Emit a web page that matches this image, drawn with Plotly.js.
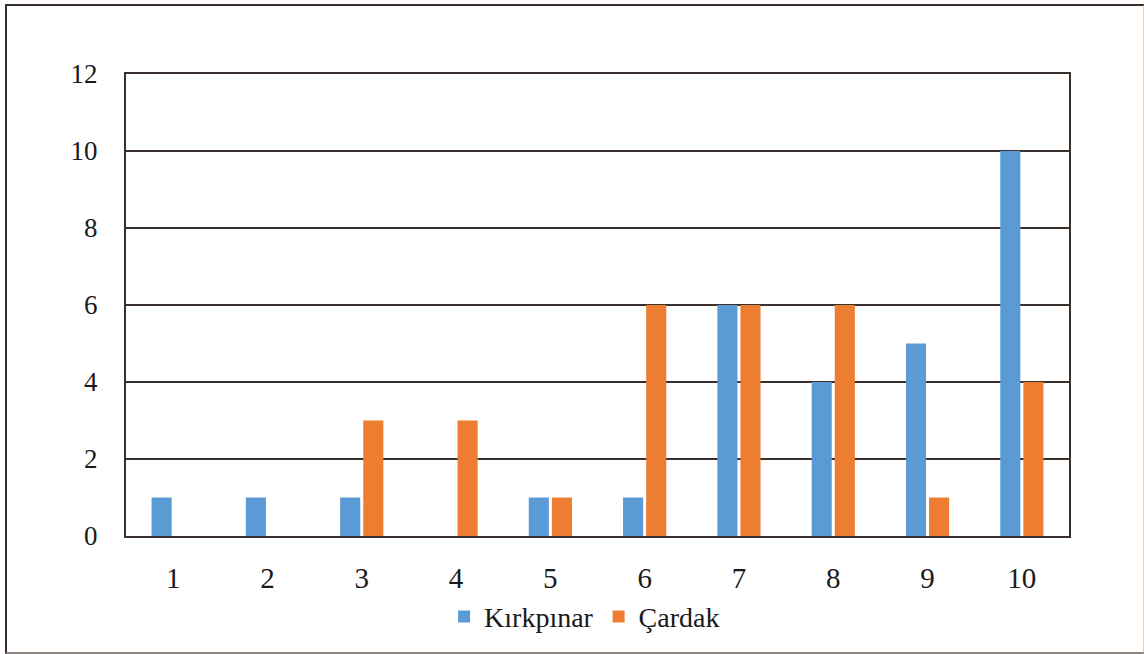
<!DOCTYPE html>
<html>
<head>
<meta charset="utf-8">
<script src="https://cdn.plot.ly/plotly-3.0.1.min.js"></script>
<style>
html,body{margin:0;padding:0;background:#fff;}
#wrap{position:absolute;left:0;top:0;width:1144px;height:654px;}
#frame{position:absolute;left:5px;top:4px;width:1136px;height:646px;border:2px solid #3b302c;border-bottom-color:#8a8580;border-right-color:#d8d2cf;pointer-events:none;}
#chart{position:absolute;left:0;top:0;width:1144px;height:654px;}
</style>
</head>
<body>
<div id="wrap"><div id="chart"></div><div id="frame"></div></div>
<script>
const categories = ["1","2","3","4","5","6","7","8","9","10"];
const kirkpinar = [1,1,1,0,1,1,6,4,5,10];
const cardak = [0,0,3,3,1,6,6,6,1,4];
const seriesNames = ["Kırkpınar","Çardak"];
const yTicks = [0,2,4,6,8,10,12];

const gridColor = "#3a302c";
const font = "Liberation Serif";
const textColor = "#1a1a1a";

const traces = [
  {type:"bar", x:categories, y:kirkpinar, name:seriesNames[0], marker:{color:"#5B9BD5"}},
  {type:"bar", x:categories, y:cardak, name:seriesNames[1], marker:{color:"#ED7D31"}}
];

const layout = {
  width:1144, height:654,
  margin:{l:126, r:75, t:74, b:118, autoexpand:false},
  paper_bgcolor:"#ffffff", plot_bgcolor:"#ffffff",
  barmode:"group", bargap:0.51, bargroupgap:0.13,
  font:{family:font, color:textColor},
  xaxis:{
    type:"category", showgrid:false, showline:true, mirror:true,
    linecolor:gridColor, linewidth:2, automargin:false,
    tickfont:{size:29, family:font, color:textColor},
    ticks:"outside", ticklen:15, tickcolor:"rgba(0,0,0,0)"
  },
  yaxis:{
    range:[0,12], tickvals:yTicks, showgrid:true, gridcolor:gridColor, gridwidth:2,
    showline:true, mirror:true, linecolor:gridColor, linewidth:2, zeroline:false, automargin:false,
    tickfont:{size:27, family:font, color:textColor},
    ticks:"outside", ticklen:21, tickcolor:"rgba(0,0,0,0)"
  },
  showlegend:true,
  legend:{orientation:"h", xref:"container", yref:"container", x:0.511, xanchor:"center", y:0.057, yanchor:"middle",
    font:{size:28, family:font, color:textColor}, itemwidth:30, traceorder:"normal"}
};

Plotly.newPlot("chart", traces, layout, {displayModeBar:false, staticPlot:true});
</script>
</body>
</html>
